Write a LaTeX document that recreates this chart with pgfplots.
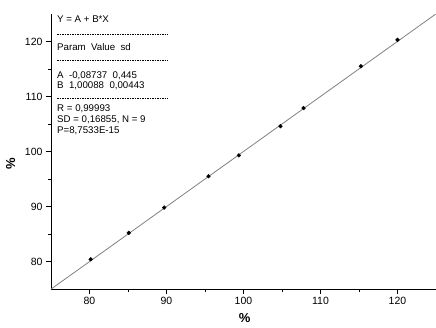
\documentclass[border=0pt]{standalone}
\usepackage{pgfplots}
\pgfplotsset{compat=1.18}
\usepackage{fontspec}
\setmainfont{Liberation Sans}
\begin{document}
\begin{tikzpicture}
\begin{axis}[
  scale only axis,
  width=385pt, height=275pt,
  xmin=75, xmax=125, ymin=75, ymax=125,
  axis x line*=bottom, axis y line*=left,
  axis line style={line width=0.9pt, -},
  xtick={80,90,100,110,120}, ytick={80,90,100,110,120},
  minor tick num=1,
  tick align=outside,
  major tick length=5pt, minor tick length=3pt,
  tick style={black, line width=0.8pt},
  /pgf/number format/assume math mode=true,
  ticklabel style={font=\fontsize{10.5}{12}\selectfont},
  xlabel={\textbf{\%}}, ylabel={\textbf{\%}},
  label style={font=\fontsize{13}{15}\selectfont},
  xlabel style={at={(axis description cs:0.503,-0.105)}, anchor=center},
  ylabel style={at={(axis description cs:-0.105,0.455)}, anchor=center},
  clip=true,
]
\addplot[gray, line width=0.8pt, no marks] coordinates {(75,74.978) (125,125.023)};
\addplot[only marks, mark=*, mark size=1.9pt, black] coordinates {
(80.15,80.4) (85.1,85.2) (89.7,89.8) (95.45,95.5) (99.4,99.3)
(104.8,104.6) (107.8,107.9) (115.25,115.5) (120.0,120.3)};
\begin{scope}[every node/.style={anchor=west, inner sep=0pt, font=\fontsize{9.7}{11}\selectfont}]
\node at (rel axis cs:0.0156,0.982) {Y = A + B*X};
\node at (rel axis cs:0.0156,0.88) {Param\ \ Value\ \ sd};
\node at (rel axis cs:0.0156,0.775) {A\ \ -0,08737\ \ 0,445};
\node at (rel axis cs:0.0156,0.738) {B\ \ 1,00088\ \ 0,00443};
\node at (rel axis cs:0.0156,0.655) {R = 0,99993};
\node at (rel axis cs:0.0156,0.615) {SD = 0,16855, N = 9};
\node at (rel axis cs:0.0156,0.575) {P=8,7533E-15};
\end{scope}
\draw[black, line width=0.5pt, dash pattern=on 1.5pt off 1pt] (rel axis cs:0.0156,0.927) -- (rel axis cs:0.304,0.927);
\draw[black, line width=0.5pt, dash pattern=on 1.5pt off 1pt] (rel axis cs:0.0156,0.833) -- (rel axis cs:0.304,0.833);
\draw[black, line width=0.5pt, dash pattern=on 1.5pt off 1pt] (rel axis cs:0.0156,0.695) -- (rel axis cs:0.304,0.695);
\end{axis}
\pgfresetboundingbox
\path ([xshift=-51pt,yshift=-38pt]current axis.origin) rectangle ++(436pt,327pt);
\end{tikzpicture}
\end{document}
